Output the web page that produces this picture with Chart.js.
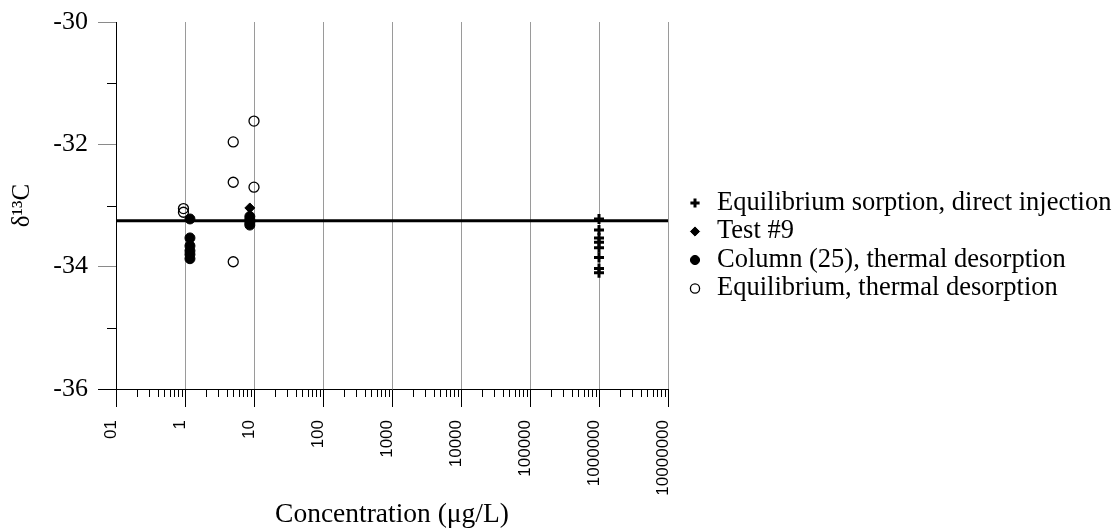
<!DOCTYPE html>
<html>
<head>
<meta charset="utf-8">
<script src="https://cdn.jsdelivr.net/npm/chart.js@4.4.1/dist/chart.umd.min.js"></script>
<style>
  html, body { margin: 0; padding: 0; background: #fff; }
</style>
</head>
<body>
<canvas id="chart" width="1117" height="529"></canvas>
<script>
// ---- data ----
const seriesNames = [
    "Equilibrium sorption, direct injection",
    "Test #9",
    "Column (25), thermal desorption",
    "Equilibrium, thermal desorption"
];

const directInjX = [1e6, 1e6, 1e6, 1e6, 1e6, 1e6, 1e6, 1e6];
const directInjY = [-33.22, -33.40, -33.53, -33.60, -33.69, -33.85, -34.03, -34.10];

const test9X = [8.7];
const test9Y = [-33.04];

const columnX = [1.18, 1.18, 1.18, 1.18, 1.18, 1.18, 8.7, 8.7, 8.7, 8.7];
const columnY = [-33.22, -33.53, -33.66, -33.74, -33.80, -33.87, -33.18, -33.23, -33.28, -33.32];

const eqThermX = [0.95, 0.95, 5.0, 5.0, 5.0, 10, 10];
const eqThermY = [-33.05, -33.11, -31.96, -32.62, -33.92, -31.62, -32.70];

const meanLineY = -33.25;

const xTickValues = [0.1, 1, 10, 100, 1000, 1e4, 1e5, 1e6, 1e7];
const xTickLabels = ["01", "1", "10", "100", "1000", "10000", "100000", "1000000", "10000000"];
const yTickValues = [-36, -34, -32, -30];
const yMinorValues = [-35, -33, -31];

// ---- helpers ----
const SERIF = "'Liberation Serif', 'Times New Roman', serif";
const SANS = "'Liberation Sans', Arial, sans-serif";

function pts(xs, ys) {
    return xs.map((x, i) => ({ x: x, y: ys[i] }));
}

// legend sizing: the legend box starts just right of the plot
const plotRight = 668;
const legendFont = 26.5;
const legendPad = 2;
const legendBox = 17.5;
const legendLeft = 684.25;
const mctx = document.createElement("canvas").getContext("2d");
mctx.font = legendFont + "px " + SERIF;
const maxText = Math.max(...seriesNames.map(t => mctx.measureText(t).width));
const legendWidth = legendPad + legendBox + legendFont / 2 + maxText + 10;
const rightPad = Math.max(0, 1117 - legendLeft - legendWidth);
// first legend row centred at y = 203
const legendTitlePad = 203 - 22 - legendPad - legendFont / 2 - 1.2;

// minor ticks drawn on the library scales
const minorTicks = {
    id: "minorTicks",
    afterDraw(chart) {
        const { ctx, scales: { x, y } } = chart;
        ctx.save();
        ctx.strokeStyle = "#000";
        ctx.lineWidth = 1;
        ctx.beginPath();
        for (let d = 0; d < xTickValues.length - 1; d++) {
            for (let k = 2; k <= 9; k++) {
                const px = Math.round(x.getPixelForValue(xTickValues[d] * k)) + 0.5;
                ctx.moveTo(px, y.bottom);
                ctx.lineTo(px, y.bottom + 8);
            }
        }
        yMinorValues.forEach(v => {
            const py = Math.round(y.getPixelForValue(v)) + 0.5;
            ctx.moveTo(x.left - 9, py);
            ctx.lineTo(x.left, py);
        });
        // axis line runs a little past the x axis
        ctx.moveTo(x.left + 0.5, y.bottom);
        ctx.lineTo(x.left + 0.5, y.bottom + 9);
        ctx.stroke();
        ctx.restore();
    }
};

new Chart(document.getElementById("chart"), {
    type: "scatter",
    data: {
        datasets: [
            {
                label: seriesNames[0], data: pts(directInjX, directInjY), yAxisID: "y",
                pointStyle: "cross", pointRadius: 5, borderWidth: 3,
                borderColor: "#000", backgroundColor: "#000"
            },
            {
                label: seriesNames[1], data: pts(test9X, test9Y), yAxisID: "y",
                pointStyle: "rectRot", pointRadius: 5, borderWidth: 1,
                borderColor: "#000", backgroundColor: "#000"
            },
            {
                label: seriesNames[2], data: pts(columnX, columnY), yAxisID: "y",
                pointStyle: "circle", pointRadius: 5, borderWidth: 1,
                borderColor: "#000", backgroundColor: "#000"
            },
            {
                label: seriesNames[3], data: pts(eqThermX, eqThermY), yAxisID: "y",
                pointStyle: "circle", pointRadius: 5, borderWidth: 1.3,
                borderColor: "#000", backgroundColor: "rgba(0,0,0,0)"
            },
            {
                type: "line", label: "mean", yAxisID: "y",
                data: [{ x: xTickValues[0], y: meanLineY }, { x: xTickValues[xTickValues.length - 1], y: meanLineY }],
                borderColor: "#000", borderWidth: 3, pointRadius: 0, fill: false
            }
        ]
    },
    options: {
        responsive: false,
        animation: false,
        devicePixelRatio: 1,
        layout: { padding: { top: 22, left: 0, right: rightPad, bottom: 0 } },
        plugins: {
            tooltip: { enabled: false },
            legend: {
                position: "right",
                align: "start",
                maxWidth: 1117 - legendLeft,
                title: { display: true, text: "", font: { size: 1 }, padding: { top: legendTitlePad, bottom: 0 } },
                labels: {
                    usePointStyle: true,
                    boxWidth: legendBox,
                    boxHeight: 6.5,
                    padding: legendPad,
                    color: "#000",
                    font: { family: SERIF, size: legendFont },
                    filter: item => item.datasetIndex < 4
                }
            }
        },
        scales: {
            x: {
                type: "logarithmic",
                min: xTickValues[0],
                max: xTickValues[xTickValues.length - 1],
                afterBuildTicks(s) { s.ticks = xTickValues.map(v => ({ value: v })); },
                afterFit(s) { s.height = 140; },
                ticks: {
                    autoSkip: false, minRotation: 90, maxRotation: 90,
                    padding: 13, labelOffset: -5, color: "#000",
                    font: { family: SANS, size: 17 },
                    callback: (v, i) => xTickLabels[i]
                },
                grid: { color: "#9a9a9a", lineWidth: 1, tickColor: "#000", tickLength: 18 },
                border: { color: "#000", width: 1 },
                title: {
                    display: true, text: "Concentration (μg/L)", color: "#000",
                    font: { family: SERIF, size: 27.5, lineHeight: 1 }, padding: { top: 0, bottom: 0 }
                }
            },
            y: {
                min: -36, max: -30,
                afterBuildTicks(s) { s.ticks = yTickValues.map(v => ({ value: v })); },
                afterFit(s) { s.width = 116; s.paddingTop = 0; s.paddingBottom = 0; },
                ticks: { color: "#000", padding: 10, font: { family: SERIF, size: 26 } },
                grid: {
                    drawOnChartArea: false, tickLength: 18,
                    tickColor: c => (c.tick && c.tick.value === -36 ? "#000" : "#8a8a8a")
                },
                border: { color: "#000", width: 1 },
                title: {
                    display: true, text: "δ¹³C", color: "#000",
                    font: { family: SERIF, size: 25 }, padding: { top: 7, bottom: 0 }
                }
            },
            yR: {
                position: "right",
                display: true,
                grid: { display: false, drawTicks: false },
                border: { display: false },
                ticks: { display: false },
                afterFit(s) { s.width = legendLeft - plotRight; }
            }
        }
    },
    plugins: [minorTicks]
});
</script>
</body>
</html>
